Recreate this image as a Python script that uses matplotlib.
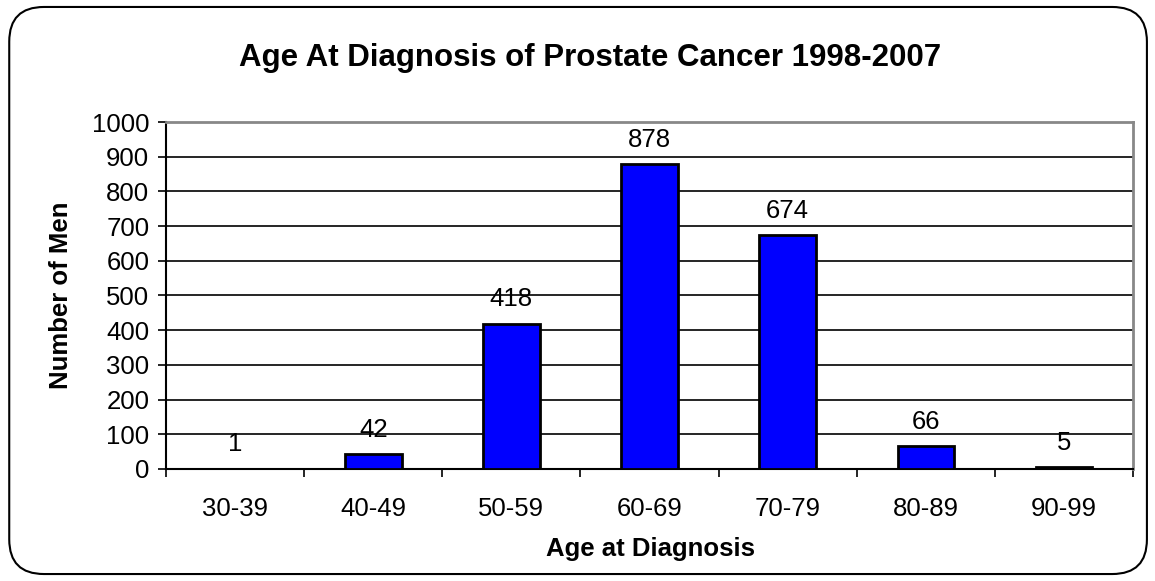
import matplotlib.pyplot as plt
from matplotlib.patches import FancyBboxPatch

plt.rcParams['font.family'] = ['Liberation Sans', 'DejaVu Sans']

age_groups = ['30-39', '40-49', '50-59', '60-69', '70-79', '80-89', '90-99']
men = [1, 42, 418, 878, 674, 66, 5]

BLUE = '#0000ff'
FS = 18.5

fig = plt.figure(figsize=(11.55, 5.81), dpi=100)

# rounded chart border, behind the axes
border = FancyBboxPatch((0.008, 0.012), 0.985, 0.976,
                        boxstyle='round,pad=0,rounding_size=0.03',
                        transform=fig.transFigure, facecolor='none',
                        edgecolor='black', lw=1.5, mutation_aspect=1155 / 581,
                        zorder=-1)
fig.patches.append(border)

ax = fig.add_axes([0.1437, 0.1928, 0.8373, 0.5972])
x = range(len(age_groups))
ax.bar(x, men, width=0.41, color=BLUE, edgecolor='black', lw=2, zorder=3)

for xi, v in zip(x, men):
    ax.annotate(str(v), xy=(xi, v), xytext=(0, 9), textcoords='offset points',
                ha='center', va='bottom', fontsize=FS)

ax.set_xlim(-0.5, len(age_groups) - 0.5)
ax.set_ylim(0, 1000)
ax.set_yticks(range(0, 1001, 100))
ax.set_xticks(x)
ax.set_xticklabels(age_groups)
ax.set_xticks([i - 0.5 for i in range(len(age_groups) + 1)], minor=True)
ax.tick_params(axis='x', which='major', length=0, pad=20, labelsize=FS)
ax.tick_params(axis='x', which='minor', length=6, width=1.2, direction='out')
ax.tick_params(axis='y', length=6, width=1.2, direction='out', labelsize=FS, pad=6)
ax.grid(axis='y', color='black', lw=1.2, zorder=0)

ax.spines['top'].set_color('#888888')
ax.spines['right'].set_color('#888888')
ax.spines['top'].set_linewidth(2)
ax.spines['right'].set_linewidth(2)
ax.spines['left'].set_linewidth(1.5)
ax.spines['bottom'].set_linewidth(1.5)

fig.text(650 / 1155, 1 - 549 / 581, 'Age at Diagnosis', ha='center', va='center',
         fontsize=FS, fontweight='bold')
fig.text(61 / 1155, 1 - 295 / 581, 'Number of Men', ha='center', va='center',
         rotation=90, fontsize=FS, fontweight='bold')
fig.text(0.511, 1 - 66 / 581, 'Age At Diagnosis of Prostate Cancer 1998-2007',
         ha='center', va='baseline', fontsize=22.5, fontweight='bold')

fig.savefig('out.png', dpi=100)
